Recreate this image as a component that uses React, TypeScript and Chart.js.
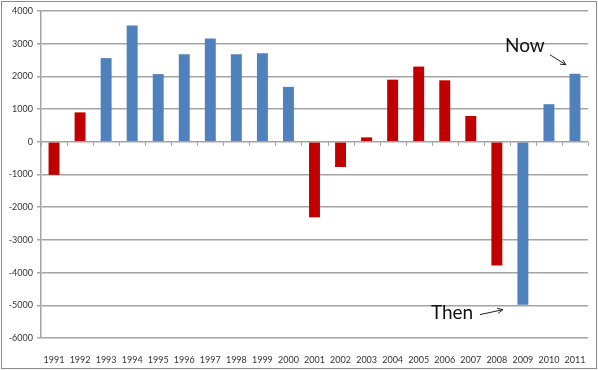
import React, { useEffect, useRef } from "react";
import { Chart, registerables } from "chart.js";

Chart.register(...registerables);

const years = ["1991","1992","1993","1994","1995","1996","1997","1998","1999","2000","2001","2002","2003","2004","2005","2006","2007","2008","2009","2010","2011"];
const values = [-1010, 900, 2560, 3560, 2070, 2680, 3160, 2680, 2710, 1680, -2310, -770, 135, 1900, 2300, 1880, 790, -3780, -4980, 1150, 2080];
const party = ["R","R","D","D","D","D","D","D","D","D","R","R","R","R","R","R","R","R","D","D","D"];
const yTicks = [-6000, -5000, -4000, -3000, -2000, -1000, 0, 1000, 2000, 3000, 4000];

const RED = "#C00000";
const BLUE = "#4F81BD";
const GRID = "#a4a4a4";

function arrow(ctx: CanvasRenderingContext2D, x1: number, y1: number, x2: number, y2: number) {
  ctx.beginPath();
  ctx.moveTo(x1, y1);
  ctx.lineTo(x2, y2);
  const a = Math.atan2(y2 - y1, x2 - x1);
  const h = 6;
  ctx.moveTo(x2, y2);
  ctx.lineTo(x2 - h * Math.cos(a - 0.45), y2 - h * Math.sin(a - 0.45));
  ctx.moveTo(x2, y2);
  ctx.lineTo(x2 - h * Math.cos(a + 0.45), y2 - h * Math.sin(a + 0.45));
  ctx.stroke();
}

const decor = {
  id: "decor",
  afterDatasetsDraw(chart: any) {
    const ctx = chart.ctx as CanvasRenderingContext2D;
    const xs = chart.scales.x;
    const ys = chart.scales.y;
    const y0 = ys.getPixelForValue(0);
    ctx.save();
    ctx.strokeStyle = GRID;
    ctx.lineWidth = 1;
    ctx.beginPath();
    for (let i = 0; i <= years.length; i++) {
      const x = Math.round(xs.getPixelForValue(i - 0.5)) + 0.5;
      ctx.moveTo(x, y0);
      ctx.lineTo(x, y0 + 4);
    }
    ctx.stroke();

    ctx.fillStyle = "#111";
    ctx.strokeStyle = "#222";
    ctx.lineWidth = 1;
    ctx.font = "19px Lato, 'Open Sans', sans-serif";
    ctx.textBaseline = "alphabetic";
    ctx.textAlign = "left";
    const xNow = xs.getPixelForValue(20);
    const yNow = ys.getPixelForValue(values[20]);
    ctx.fillText("Now", xNow - 70, yNow - 22);
    arrow(ctx, xNow - 25, yNow - 19, xNow - 9, yNow - 9);

    const xThen = xs.getPixelForValue(18);
    const yThen = ys.getPixelForValue(values[18]);
    ctx.fillText("Then", xThen - 92, yThen + 14);
    arrow(ctx, xThen - 43, yThen + 10, xThen - 20, yThen + 5);
    ctx.restore();
  },
};

export default function App() {
  const ref = useRef<HTMLCanvasElement>(null);
  useEffect(() => {
    if (!ref.current) return;
    const chart = new Chart(ref.current, {
      type: "bar",
      data: {
        labels: years,
        datasets: [
          {
            data: values,
            backgroundColor: party.map((p) => (p === "R" ? RED : BLUE)),
            borderWidth: 0,
            barPercentage: 0.42,
            categoryPercentage: 1,
          },
        ],
      },
      options: {
        animation: false,
        responsive: false,
        maintainAspectRatio: false,
        layout: { padding: { left: 0, right: 10, top: 11, bottom: 0 } },
        plugins: { legend: { display: false }, tooltip: { enabled: false } },
        scales: {
          x: {
            grid: { display: false },
            border: { display: false },
            ticks: {
              color: "#333",
              font: { family: "Lato, 'Liberation Sans', sans-serif", size: 9 },
              padding: 9,
              maxRotation: 0,
              autoSkip: false,
            },
            afterFit: (s: any) => { s.height = 32; },
          },
          y: {
            min: -6000,
            max: 4000,
            afterBuildTicks: (s: any) => { s.ticks = yTicks.map((v) => ({ value: v })); },
            grid: { color: GRID, lineWidth: 1.5, tickLength: 4, tickColor: GRID },
            border: { display: true, color: GRID, width: 1.5 },
            ticks: {
              color: "#333",
              font: { family: "Lato, 'Liberation Sans', sans-serif", size: 9 },
              padding: 4,
              callback: (v: any) => String(v),
            },
            afterFit: (s: any) => { s.width = 41; },
          },
        },
      },
      plugins: [decor],
    });
    return () => chart.destroy();
  }, []);
  return (
    <div style={{ position: "fixed", left: 0, top: 0, width: 598, height: 370, background: "#fff" }}>
      <div style={{ position: "absolute", left: 1, top: 1, width: 596, height: 368, boxSizing: "border-box", border: "1px solid #8a8a8a" }} />
      <canvas ref={ref} width={598} height={370} style={{ position: "absolute", left: 0, top: 0 }} />
    </div>
  );
}
